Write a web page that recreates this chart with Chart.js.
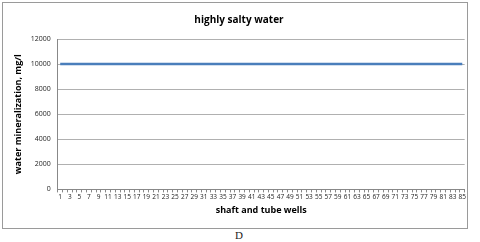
<!DOCTYPE html>
<html>
<head>
<meta charset="utf-8">
<script src="https://cdn.jsdelivr.net/npm/chart.js@4"></script>
<style>
  html, body { margin: 0; padding: 0; background: #fff; }
  #box { position: absolute; left: 2px; top: 2px; width: 464px; height: 225px; border: 1px solid #9a9a9a; }
  #cap { position: absolute; left: 0; width: 478px; top: 229px; text-align: center; font-family: "Liberation Serif", serif; font-size: 11px; color: #222; }
</style>
</head>
<body>
<div id="box"><canvas id="chart"></canvas></div>
<div id="cap">D</div>
<script>
// wells 1..85, all at 10000 mg/l
const wells = [];
for (let i = 1; i <= 85; i++) wells.push(String(i));
const mineralization = [
  10000, 10000, 10000, 10000, 10000, 10000, 10000, 10000, 10000, 10000,
  10000, 10000, 10000, 10000, 10000, 10000, 10000, 10000, 10000, 10000,
  10000, 10000, 10000, 10000, 10000, 10000, 10000, 10000, 10000, 10000,
  10000, 10000, 10000, 10000, 10000, 10000, 10000, 10000, 10000, 10000,
  10000, 10000, 10000, 10000, 10000, 10000, 10000, 10000, 10000, 10000,
  10000, 10000, 10000, 10000, 10000, 10000, 10000, 10000, 10000, 10000,
  10000, 10000, 10000, 10000, 10000, 10000, 10000, 10000, 10000, 10000,
  10000, 10000, 10000, 10000, 10000, 10000, 10000, 10000, 10000, 10000,
  10000, 10000, 10000, 10000, 10000
];
const yTicks = [0, 2000, 4000, 6000, 8000, 10000, 12000];

const font = "'Open Sans', 'Liberation Sans', Arial, sans-serif";

new Chart(document.getElementById('chart'), {
  type: 'line',
  data: {
    labels: wells,
    datasets: [{
      data: mineralization,
      borderColor: '#4a7ebb',
      borderWidth: 2.5,
      pointRadius: 0,
      tension: 0
    }]
  },
  options: {
    responsive: true,
    maintainAspectRatio: false,
    animation: false,
    layout: { padding: { left: 10, right: 2, top: 4, bottom: 12 } },
    plugins: {
      legend: { display: false },
      tooltip: { enabled: false },
      title: {
        display: true,
        text: 'highly salty water',
        color: '#000',
        font: { family: font, size: 10, weight: 'bold' },
        padding: { top: 7, bottom: 13 }
      }
    },
    scales: {
      x: {
        offset: true,
        grid: { display: true, offset: true, drawOnChartArea: false, tickLength: 3, color: '#888' },
        border: { color: '#888' },
        ticks: {
          autoSkip: false,
          maxRotation: 0,
          padding: 1,
          color: '#222',
          font: { family: font, size: 6.5 },
          callback: (v, i) => (i % 2 === 0 ? wells[i] : '')
        },
        title: {
          display: true,
          text: 'shaft and tube wells',
          color: '#000',
          font: { family: font, size: 9, weight: 'bold' },
          padding: { top: 3, bottom: 0 }
        }
      },
      y: {
        min: 0,
        max: 12000,
        afterBuildTicks: axis => { axis.ticks = yTicks.map(v => ({ value: v })); },
        grid: { color: '#b0b0b0', drawTicks: false },
        border: { color: '#888' },
        ticks: {
          padding: 7,
          color: '#222',
          font: { family: font, size: 7 },
          callback: v => String(v)
        },
        title: {
          display: true,
          text: 'water mineralization, mg/l',
          color: '#000',
          font: { family: font, size: 9, weight: 'bold' },
          padding: { top: 0, bottom: 0 }
        }
      }
    }
  }
});
</script>
</body>
</html>
